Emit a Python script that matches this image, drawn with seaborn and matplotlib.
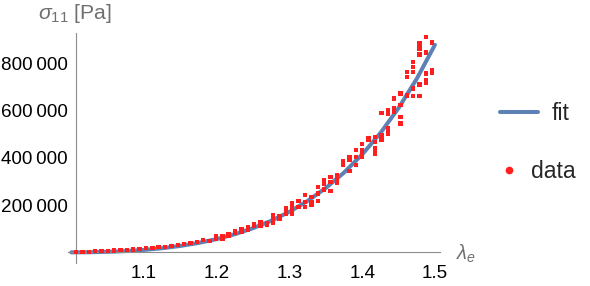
import numpy as np
import pandas as pd
import matplotlib
matplotlib.use("Agg")
import matplotlib.pyplot as plt
import seaborn as sns
from matplotlib.ticker import FixedLocator, FuncFormatter
from matplotlib.lines import Line2D

# ---- fit curve ----
fit_lambda = [1.0, 1.025, 1.05, 1.075, 1.1, 1.125, 1.15, 1.175, 1.2, 1.225, 1.25,
              1.275, 1.3, 1.325, 1.35, 1.375, 1.4, 1.425, 1.45, 1.475, 1.5]
fit_sigma = [0, 516, 2228, 5410, 10380, 17500, 27200, 39950, 56300, 76900, 102500,
             133800, 171800, 217600, 272300, 337400, 414200, 504600, 610500, 734100, 877700]

# ---- measured data: stretch columns and stresses in each column ----
data_lambda = [1.0065, 1.0152, 1.0240, 1.0327, 1.0415, 1.0502, 1.0590, 1.0677, 1.0765, 1.0852,
               1.0940, 1.1027, 1.1115, 1.1202, 1.1289, 1.1377, 1.1464, 1.1552, 1.1639, 1.1727,
               1.1814, 1.1902, 1.1989, 1.2077, 1.2164, 1.2252, 1.2339, 1.2427, 1.2514, 1.2602,
               1.2689, 1.2776, 1.2864, 1.2951, 1.3039, 1.3126, 1.3214, 1.3301, 1.3389, 1.3476,
               1.3564, 1.3651, 1.3738, 1.3826, 1.3913, 1.4001, 1.4088, 1.4176, 1.4263, 1.4351,
               1.4438, 1.4526, 1.4613, 1.4701, 1.4788, 1.4876, 1.4963]
data_sigma = [
    [500], [1500], [2000], [5000], [5500], [6000], [8500], [9000], [11000], [11500],
    [15000], [18000], [19000], [22000], [23000], [27000], [31000], [35000], [39000], [45000],
    [52000], [49000], [58000, 69000], [57000, 67000], [69000, 77000], [82000, 90000],
    [86000, 96000], [96000, 107000], [111000, 120000], [114000, 127000],
    [115000, 124000], [123000, 140000, 156000], [141000, 153000], [165000, 186000],
    [165000, 186000, 207000], [193000, 218000], [193000, 214000, 242000],
    [200000, 214000, 233000], [217000, 249000, 277000], [266000, 292000, 306000],
    [260000, 298000, 320000], [294000, 313000, 327000], [369000, 387000],
    [345000, 390000, 404000], [369000, 404000, 433000], [404000, 419000, 433000, 458000],
    [475000, 482000], [419000, 440000, 468000, 489000], [478000, 496000, 590000],
    [503000, 524000, 588000, 602000], [594000, 609000, 651000],
    [545000, 573000, 623000, 672000], [661000, 665000, 742000, 764000],
    [661000, 693000, 764000, 785000, 806000], [661000, 710000, 837000, 863000, 884000],
    [719000, 728000, 757000, 846000, 912000], [761000, 771000, 888000],
]

x_major = [1.1, 1.2, 1.3, 1.4, 1.5]
y_major = [200000, 400000, 600000, 800000]

rows = [(l, s) for l, col in zip(data_lambda, data_sigma) for s in col]
df = pd.DataFrame(rows, columns=["lam", "sigma"])
fit_df = pd.DataFrame({"lam": fit_lambda, "sigma": fit_sigma})

sns.set_theme(style="white")
plt.rcParams['font.family'] = ['Liberation Sans', 'DejaVu Sans']
plt.rcParams['mathtext.fontset'] = 'custom'
plt.rcParams['mathtext.rm'] = 'Liberation Sans'
plt.rcParams['mathtext.it'] = 'Liberation Sans:italic'

FS = 13.6
LFS = 16.5
BLUE = '#5E81B5'
RED = '#FF1F1F'
AXC = '#8C8C8C'
LABC = '#707070'

fig = plt.figure(figsize=(5.9, 2.86), dpi=100)
ax = fig.add_axes([68/590, 23/286, 372/590, 230/286])
ax.set_facecolor('white')

sns.lineplot(data=fit_df, x="lam", y="sigma", ax=ax, color=BLUE, lw=2.9,
             sort=False, estimator=None, legend=False, zorder=2)
sns.scatterplot(data=df, x="lam", y="sigma", ax=ax, marker='s', s=10, color=RED,
                edgecolor='none', linewidth=0, legend=False, zorder=3)

ax.set_xlim(0.9955, 1.507)
ax.set_ylim(-45000, 928000)
ax.set_xlabel("")
ax.set_ylabel("")

for side in ['top', 'right']:
    ax.spines[side].set_visible(False)
ax.spines['left'].set_position(('data', data_lambda[0]))
ax.spines['bottom'].set_position(('data', 0))
for side in ['left', 'bottom']:
    ax.spines[side].set_color(AXC)
    ax.spines[side].set_linewidth(0.8)

ax.xaxis.set_major_locator(FixedLocator(x_major))
ax.xaxis.set_minor_locator(FixedLocator([v for v in np.round(np.arange(1.02, 1.51, 0.02), 2)
                                          if not np.isclose(v * 10, round(v * 10))]))
ax.yaxis.set_major_locator(FixedLocator(y_major))
ax.yaxis.set_minor_locator(FixedLocator([v for v in range(50000, 928000, 50000) if v % 200000]))
ax.xaxis.set_major_formatter(FuncFormatter(lambda v, p: f"{v:.1f}"))
ax.yaxis.set_major_formatter(FuncFormatter(lambda v, p: f"{int(v):,}".replace(",", "\u2009")))

ax.tick_params(axis='both', which='both', direction='in', color=AXC, width=0.8,
               labelcolor='black', labelsize=FS)
ax.tick_params(axis='both', which='major', length=3.0)
ax.tick_params(axis='both', which='minor', length=1.8)
ax.tick_params(axis='y', which='major', pad=6)
ax.tick_params(axis='x', which='major', pad=9)
ax.grid(False)

fig.text(38/590, 1 - 19/286, r'$\sigma_{11}$ [Pa]', color=LABC, fontsize=15.3,
         ha='left', va='baseline')
fig.text(456/590, 1 - 260/286, r'$\lambda_e$', color=LABC, fontsize=14.5,
         ha='left', va='baseline')

h_fit = Line2D([], [], color=BLUE, lw=2.9)
fig.legend(handles=[h_fit], labels=['fit'], loc='center left',
           bbox_to_anchor=(500/590, 1 - 114/286), frameon=False, borderpad=0,
           borderaxespad=0, handlelength=38/(LFS*100/72), handletextpad=14/(LFS*100/72),
           fontsize=LFS)
h_data = Line2D([], [], ls='none', marker='o', color=RED, markersize=4.5)
fig.legend(handles=[h_data], labels=['data'], loc='center left',
           bbox_to_anchor=(500/590, 1 - 172/286), frameon=False, borderpad=0,
           borderaxespad=0, handlelength=18/(LFS*100/72), handletextpad=13/(LFS*100/72),
           fontsize=LFS)

fig.savefig("out.png", dpi=100)
